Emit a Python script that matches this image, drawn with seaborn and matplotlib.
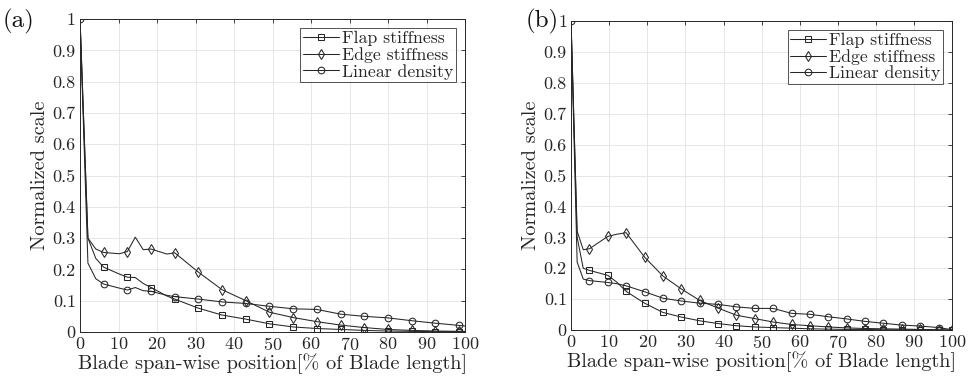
import numpy as np
import pandas as pd
import matplotlib
matplotlib.use("Agg")
import matplotlib.pyplot as plt
import seaborn as sns

# ---- panel (a) data ----
x_a = [0, 2.05, 4.1, 6.15, 10.25, 12.3, 14.35, 16.4, 18.45, 22.55, 24.6, 30.75, 36.9,
       43.05, 49.2, 55.35, 61.5, 67.65, 73.8, 79.95, 86.1, 92.25, 98.4, 100]
flap_a = [1, 0.30, 0.235, 0.207, 0.185, 0.175, 0.174, 0.155, 0.142, 0.115, 0.105, 0.076,
          0.054, 0.041, 0.026, 0.016, 0.011, 0.008, 0.005, 0.003, 0.002, 0.001, 0.001, 0.001]
edge_a = [1, 0.30, 0.265, 0.254, 0.25, 0.257, 0.303, 0.263, 0.265, 0.249, 0.253, 0.191,
          0.135, 0.100, 0.063, 0.046, 0.033, 0.022, 0.014, 0.008, 0.005, 0.003, 0.002, 0.002]
dens_a = [1, 0.22, 0.17, 0.153, 0.14, 0.134, 0.142, 0.132, 0.130, 0.117, 0.113, 0.105,
          0.096, 0.091, 0.082, 0.074, 0.072, 0.057, 0.050, 0.045, 0.036, 0.028, 0.021, 0.019]
marks_a = [3, 5, 8, 10, 11, 12, 13, 14, 15, 16, 17, 18, 19, 20, 21, 22]

# ---- panel (b) data ----
x_b = [0, 1.6, 3.2, 4.82, 9.64, 12, 14.46, 19.28, 24.1, 28.92, 33.74, 38.56, 43.38,
       48.2, 53.02, 57.84, 62.66, 67.48, 72.3, 77.12, 81.94, 86.76, 91.58, 96.4, 100]
flap_b = [1, 0.30, 0.20, 0.193, 0.177, 0.155, 0.125, 0.087, 0.057, 0.042, 0.030, 0.021,
          0.014, 0.010, 0.008, 0.006, 0.004, 0.003, 0.002, 0.002, 0.001, 0.001, 0.001, 0.0, 0.0]
edge_b = [1, 0.32, 0.26, 0.263, 0.303, 0.31, 0.315, 0.236, 0.175, 0.133, 0.096, 0.071,
          0.048, 0.037, 0.026, 0.018, 0.014, 0.010, 0.007, 0.005, 0.004, 0.003, 0.002, 0.001, 0.0]
dens_b = [1, 0.22, 0.165, 0.160, 0.154, 0.150, 0.143, 0.124, 0.103, 0.094, 0.087, 0.083,
          0.075, 0.070, 0.070, 0.054, 0.051, 0.043, 0.036, 0.028, 0.022, 0.016, 0.013, 0.008, 0.001]
marks_b = [3, 4, 6, 7, 8, 9, 10, 11, 12, 13, 14, 15, 16, 17, 18, 19, 20, 21, 22, 23, 24]

labels = ["Flap stiffness", "Edge stiffness", "Linear density"]
markers = ["s", "d", "o"]
msizes = [4.0, 5.2, 4.8]

sns.set_theme(style="white")
plt.rcParams["font.family"] = ["cmr10", "DejaVu Serif"]
plt.rcParams["axes.formatter.use_mathtext"] = True
plt.rcParams["mathtext.fontset"] = "cm"

fig = plt.figure(figsize=(9.7, 3.82), dpi=100)
ax_a = fig.add_axes([0.0825, 0.131, 0.397, 0.819])
ax_b = fig.add_axes([0.5887, 0.136, 0.393, 0.809])


def draw_panel(ax, x, series, marks, tag, tag_x):
    for i, (y, lab) in enumerate(zip(series, labels)):
        me = ([0] + marks) if i == 2 else marks
        sns.lineplot(x=x, y=y, ax=ax, color="#262626", linewidth=0.75, label=lab,
                     marker=markers[i], markersize=msizes[i], markevery=me,
                     markerfacecolor="none", markeredgecolor="#262626",
                     markeredgewidth=0.75, sort=False)
    ax.set_xlim(0, 100)
    ax.set_ylim(0, 1)
    ax.set_xticks(range(0, 101, 10))
    ax.set_yticks([0, 0.1, 0.2, 0.3, 0.4, 0.5, 0.6, 0.7, 0.8, 0.9, 1])
    ax.set_yticklabels(["0", "0.1", "0.2", "0.3", "0.4", "0.5", "0.6", "0.7", "0.8", "0.9", "1"])
    ax.grid(True, color="#e3e3e3", linewidth=0.6)
    ax.tick_params(direction="in", length=3, width=0.6, top=True, right=True,
                   labelsize=13, colors="#262626", pad=3)
    for s in ax.spines.values():
        s.set_color("#262626")
        s.set_linewidth(0.7)
    ax.set_xlabel("Blade span-wise position[% of Blade length]", fontsize=14.6,
                  color="#262626", labelpad=0)
    ax.set_ylabel("Normalized scale", fontsize=14.6, color="#262626", labelpad=3)
    leg = ax.legend(loc="upper right", fontsize=12.8, frameon=True, fancybox=False,
                    handlelength=2.0, handletextpad=0.2, borderpad=0.15,
                    labelspacing=0.05, borderaxespad=0.5)
    leg.get_frame().set_edgecolor("#262626")
    leg.get_frame().set_linewidth(0.7)
    fig.text(tag_x, 0.945, tag, fontsize=18, ha="left", va="center", color="#111111")


draw_panel(ax_a, x_a, [flap_a, edge_a, dens_a], marks_a, "(a)", 0.003)
draw_panel(ax_b, x_b, [flap_b, edge_b, dens_b], marks_b, "(b)", 0.542)

fig.savefig("out.png", dpi=100)
